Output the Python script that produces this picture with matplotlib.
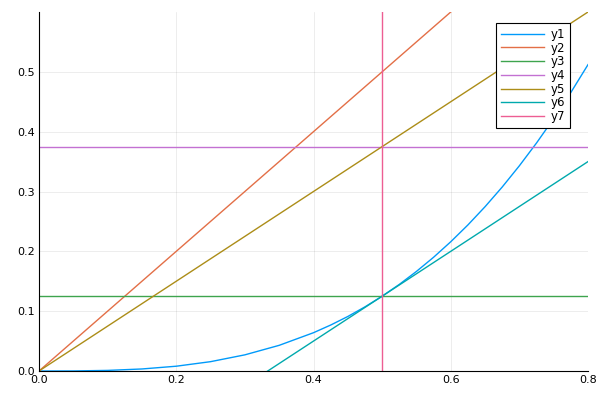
import numpy as np
import matplotlib
matplotlib.use('Agg')
import matplotlib.pyplot as plt

# y1: curve
x1 = [0.0, 0.05, 0.1, 0.15, 0.2, 0.25, 0.3, 0.35, 0.4, 0.425, 0.45, 0.475, 0.5,
      0.525, 0.55, 0.575, 0.6, 0.625, 0.65, 0.675, 0.7, 0.725, 0.75, 0.775, 0.8]
y1 = [0.0, 0.0001, 0.001, 0.0034, 0.008, 0.0156, 0.027, 0.0429, 0.064, 0.0768,
      0.0911, 0.1072, 0.125, 0.1447, 0.1664, 0.1901, 0.216, 0.2441, 0.2746,
      0.3075, 0.343, 0.3811, 0.4219, 0.4655, 0.512]
# straight lines: end points
x2, y2 = [0.0, 0.8], [0.0, 0.8]
x3, y3 = [0.0, 0.8], [0.125, 0.125]
x4, y4 = [0.0, 0.8], [0.375, 0.375]
x5, y5 = [0.0, 0.8], [0.0, 0.6]
x6, y6 = [0.0, 0.8], [-0.25, 0.35]
x7 = 0.5

colors = ['#009AFA', '#E36F47', '#3EA44E', '#C371D2', '#AC8D18', '#00A9AD', '#ED5E93']

fig = plt.figure(figsize=(6, 4), dpi=100)
ax = fig.add_axes([0.065, 0.0725, 0.915, 0.8975])

ax.plot(x1, y1, color=colors[0], lw=1, label='y1')
ax.plot(x2, y2, color=colors[1], lw=1, label='y2')
ax.plot(x3, y3, color=colors[2], lw=1, label='y3')
ax.plot(x4, y4, color=colors[3], lw=1, label='y4')
ax.plot(x5, y5, color=colors[4], lw=1, label='y5')
ax.plot(x6, y6, color=colors[5], lw=1, label='y6')
ax.axvline(x7, color=colors[6], lw=1, label='y7')

ax.set_xlim(0, 0.8)
ax.set_ylim(0, 0.6)
ax.set_xticks([0.0, 0.2, 0.4, 0.6, 0.8])
ax.set_yticks([0.0, 0.1, 0.2, 0.3, 0.4, 0.5])
ax.grid(True, color='black', alpha=0.1, lw=0.5)
ax.spines['top'].set_visible(False)
ax.spines['right'].set_visible(False)
ax.tick_params(length=0, labelsize=8, pad=3)

leg = ax.legend(loc='upper right', bbox_to_anchor=(0.967, 0.969), borderaxespad=0,
                fontsize=8.5, fancybox=False, framealpha=1, edgecolor='black',
                handlelength=3.6, labelspacing=0.06, borderpad=0.4, handletextpad=0.6)
leg.get_frame().set_linewidth(0.8)

plt.savefig('out.png')
